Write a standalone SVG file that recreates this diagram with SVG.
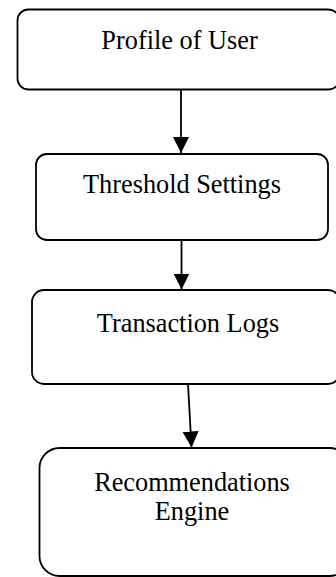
<svg xmlns="http://www.w3.org/2000/svg" width="336" height="577" viewBox="0 0 336 577">
<style>
.box{fill:#fff;stroke:#000;stroke-width:1.8}
.lbl{font-family:"Liberation Serif","Times New Roman",serif;font-size:26.3px;fill:#000;text-anchor:middle}
.edge{stroke:#000;stroke-width:1.8;fill:none}
</style>
<defs>
<marker id="ah" markerUnits="userSpaceOnUse" markerWidth="16" markerHeight="18" refX="16" refY="8" orient="auto" viewBox="0 0 16 16">
<path d="M0,0 L16,8 L0,16 Z" fill="#000"/>
</marker>
</defs>
<rect width="336" height="577" fill="#fff"/>
<g id="connectors">
<line class="edge" x1="181" y1="89.5" x2="181" y2="153" marker-end="url(#ah)"/>
<line class="edge" x1="181.5" y1="240" x2="181.5" y2="289.5" marker-end="url(#ah)"/>
<line class="edge" x1="188" y1="384" x2="191.5" y2="447.5" marker-end="url(#ah)"/>
</g>
<g id="node-profile">
<rect class="box" x="17.5" y="9.5" width="322" height="80" rx="11"/>
<text class="lbl" x="179.5" y="49">Profile of User</text>
</g>
<g id="node-threshold">
<rect class="box" x="36" y="154" width="292" height="86" rx="11"/>
<text class="lbl" x="182" y="193">Threshold Settings</text>
</g>
<g id="node-transaction">
<rect class="box" x="32" y="290" width="308" height="94" rx="12"/>
<text class="lbl" x="188" y="332">Transaction Logs</text>
</g>
<g id="node-engine">
<rect class="box" x="39.5" y="448" width="310" height="128" rx="20"/>
<text class="lbl" x="192" y="491">Recommendations</text>
<text class="lbl" x="192" y="520">Engine</text>
</g>
</svg>
